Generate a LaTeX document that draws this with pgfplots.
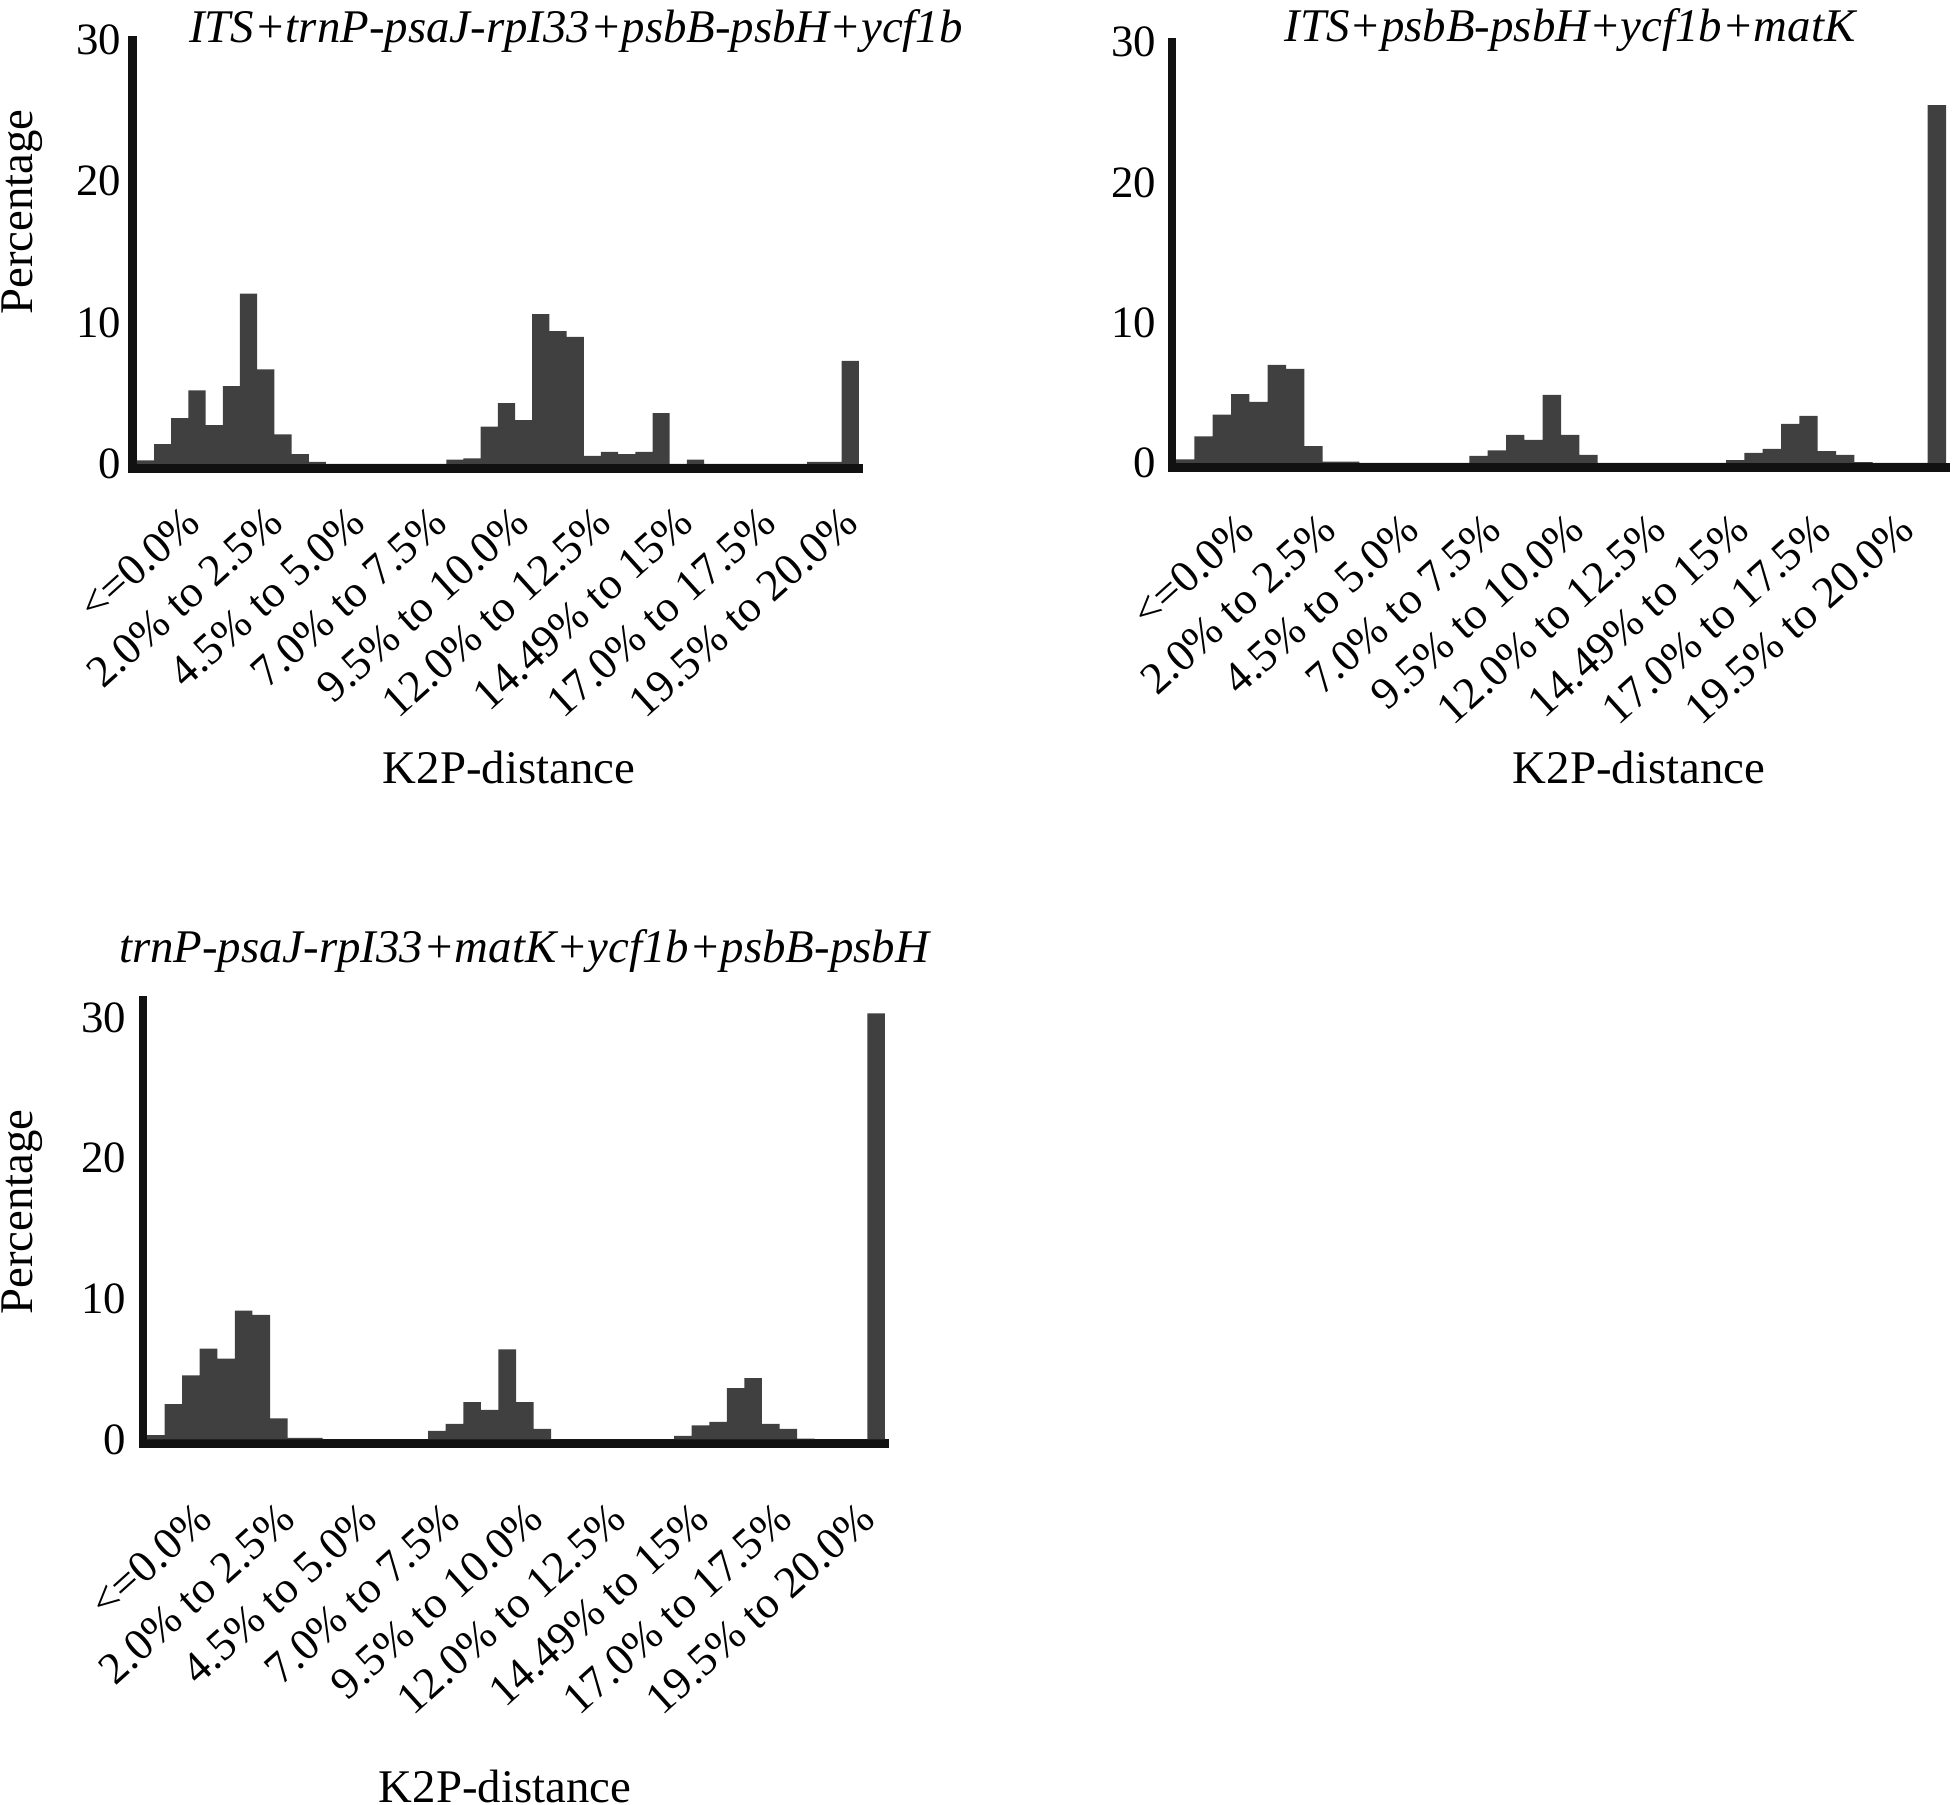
\documentclass[border=0pt]{standalone}
\usepackage{fontspec}
\setmainfont{Liberation Serif}
\usepackage{pgfplots}
\pgfplotsset{compat=1.18}
\definecolor{barcol}{HTML}{404040}
\definecolor{axcol}{HTML}{111111}
\newcommand{\tfont}{\fontsize{11.7}{14}\selectfont}
\newcommand{\kfont}{\fontsize{11.2}{13}\selectfont}
\pgfplotsset{
  hist/.style={
    scale only axis,
    anchor=south west,
    axis lines*=left,
    axis line style={line width=2.2pt, draw=axcol, line cap=rect},
    ybar, bar width=1,
    xmax=42,
    ytick={0,10,20,30},
    major tick length=0pt,
    /pgf/number format/assume math mode=true,
    xticklabels={{<=0.0\%},{2.0\% to 2.5\%},{4.5\% to 5.0\%},{7.0\% to 7.5\%},{9.5\% to 10.0\%},{12.0\% to 12.5\%},{14.49\% to 15\%},{17.0\% to 17.5\%},{19.5\% to 20.0\%}},
  },
  barsty/.style={fill=barcol, draw=none},
}
\begin{document}
\begin{tikzpicture}
\useasboundingbox (0,0) rectangle (488pt,451pt);

% Panel 1
\begin{axis}[hist,
  at={(33.1pt,333.95pt)}, width=181.6pt, height=107.05pt,
  xmin=-0.26, ymin=-0.3, ymax=30,
  xtick={2.67,7.45,12.23,17.01,21.79,26.57,31.35,36.13,40.91},
  yticklabel style={font=\kfont, inner sep=0pt, xshift=-2.6pt},
  xticklabel style={font=\kfont, inner sep=0pt, yshift=-8.75pt, rotate=42, anchor=north east},
]
\addplot[barsty] coordinates {
(0.5,0.25) (1.5,1.4) (2.5,3.25) (3.5,5.2) (4.5,2.75) (5.5,5.5) (6.5,12.05) (7.5,6.7)
(8.5,2.1) (9.5,0.7) (10.5,0.15) (11.5,0) (12.5,0) (13.5,0) (14.5,0) (15.5,0)
(16.5,0) (17.5,0) (18.5,0.3) (19.5,0.4) (20.5,2.65) (21.5,4.3) (22.5,3.1) (23.5,10.6)
(24.5,9.4) (25.5,9.0) (26.5,0.57) (27.5,0.85) (28.5,0.7) (29.5,0.85) (30.5,3.6) (31.5,0)
(32.5,0.3) (33.5,0) (34.5,0) (35.5,0) (36.5,0) (37.5,0) (38.5,0) (39.5,0.15)
(40.5,0.15) (41.5,7.3)};
\end{axis}

% Panel 2
\begin{axis}[hist,
  at={(293pt,334.2pt)}, width=193.5pt, height=106.3pt,
  xmin=-0.22, ymin=-0.3, ymax=30,
  xtick={3.27,7.77,12.27,16.77,21.27,25.77,30.27,34.77,39.27},
  yticklabel style={font=\kfont, inner sep=0pt, xshift=-3.75pt},
  xticklabel style={font=\kfont, inner sep=0pt, yshift=-10.75pt, rotate=42, anchor=north east},
]
\addplot[barsty] coordinates {
(0.5,0.25) (1.5,1.9) (2.5,3.45) (3.5,4.9) (4.5,4.35) (5.5,7.0) (6.5,6.7) (7.5,1.2)
(8.5,0.1) (9.5,0.1) (10.5,0) (11.5,0) (12.5,0) (13.5,0) (14.5,0) (15.5,0)
(16.5,0.5) (17.5,0.9) (18.5,2.0) (19.5,1.65) (20.5,4.85) (21.5,2.0) (22.5,0.57) (23.5,0)
(24.5,0) (25.5,0) (26.5,0) (27.5,0) (28.5,0) (29.5,0) (30.5,0.2) (31.5,0.73)
(32.5,1.0) (33.5,2.78) (34.5,3.35) (35.5,0.85) (36.5,0.57) (37.5,0.07) (38.5,0) (39.5,0)
(40.5,0) (41.5,25.5)};
\end{axis}

% Panel 3
\begin{axis}[hist,
  at={(35.75pt,90.1pt)}, width=185.5pt, height=110.9pt,
  xmin=-0.23, ymin=-0.3, ymax=31.25,
  xtick={2.67,7.39,12.11,16.83,21.55,26.27,30.99,35.71,40.43},
  yticklabel style={font=\kfont, inner sep=0pt, xshift=-4pt},
  xticklabel style={font=\kfont, inner sep=0pt, yshift=-14pt, rotate=42, anchor=north east},
]
\addplot[barsty] coordinates {
(0.5,0.3) (1.5,2.5) (2.5,4.55) (3.5,6.45) (4.5,5.75) (5.5,9.15) (6.5,8.85) (7.5,1.5)
(8.5,0.1) (9.5,0.1) (10.5,0) (11.5,0) (12.5,0) (13.5,0) (14.5,0) (15.5,0)
(16.5,0.6) (17.5,1.1) (18.5,2.65) (19.5,2.1) (20.5,6.4) (21.5,2.65) (22.5,0.75) (23.5,0)
(24.5,0) (25.5,0) (26.5,0) (27.5,0) (28.5,0) (29.5,0) (30.5,0.25) (31.5,1.0)
(32.5,1.25) (33.5,3.65) (34.5,4.35) (35.5,1.1) (36.5,0.75) (37.5,0.05) (38.5,0) (39.5,0)
(40.5,0) (41.5,30.3)};
\end{axis}

% Titles
\node[anchor=base, font=\tfont\itshape] at (144pt,440.25pt) {ITS+trnP-psaJ-rpI33+psbB-psbH+ycf1b};
\node[anchor=base, font=\tfont\itshape] at (392.5pt,440.5pt) {ITS+psbB-psbH+ycf1b+matK};
\node[anchor=base, font=\tfont\itshape] at (131pt,210.5pt) {trnP-psaJ-rpI33+matK+ycf1b+psbB-psbH};

% Axis labels
\node[anchor=base, rotate=90, font=\tfont] at (8.25pt,398pt) {Percentage};
\node[anchor=base, rotate=90, font=\tfont] at (8.25pt,148pt) {Percentage};
\node[anchor=base, font=\tfont] at (127.25pt,255.25pt) {K2P-distance};
\node[anchor=base, font=\tfont] at (409.75pt,255.25pt) {K2P-distance};
\node[anchor=base, font=\tfont] at (126.25pt,0.5pt) {K2P-distance};
\end{tikzpicture}
\end{document}
